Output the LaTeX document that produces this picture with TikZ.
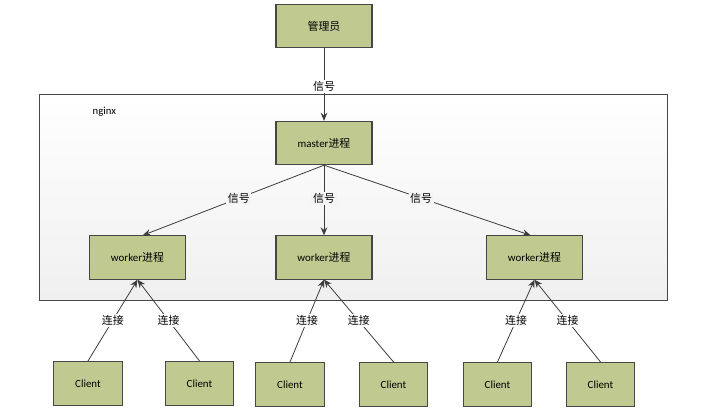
\documentclass[tikz,border=0pt]{standalone}
\usepackage{fontspec}
\setmainfont{Carlito}
\newfontfamily\cjk{Noto Sans CJK SC}
\usetikzlibrary{arrows.meta}
\definecolor{boxfill}{RGB}{192,202,144}
\definecolor{boxline}{RGB}{70,70,70}
\definecolor{linecol}{RGB}{60,60,60}
\definecolor{framefill}{RGB}{244,244,244}
\begin{document}
\begin{tikzpicture}[x=0.75pt,y=-0.75pt,
  box/.style={draw=boxline,fill=boxfill,line width=0.8pt,inner sep=0pt,
    font=\fontsize{8.2}{10}\selectfont},
  bigbox/.style={box,minimum width=72pt,minimum height=32.5pt},
  clientbox/.style={box,minimum width=51.5pt,minimum height=33pt},
  conn/.style={draw=linecol,line width=0.6pt,-{Stealth[length=6pt,width=5pt]}},
  lab/.style={font=\fontsize{8.2}{10}\selectfont\cjk,inner sep=1.2pt},
  labw/.style={lab,fill=white},
  labg/.style={lab,fill=framefill}]
\useasboundingbox (0,0) rectangle (720,417);
% frame
\node[draw=boxline,line width=0.6pt,top color=white,bottom color=gray!12,
  minimum width=471pt,minimum height=154.5pt,inner sep=0pt] (frame) at (353,197) {};
\node[font=\fontsize{8}{10}\selectfont,anchor=west] (nginx) at (88,112) {nginx};
% nodes
\node[bigbox] (admin) at (324,26) {\cjk 管理员};
\node[bigbox] (master) at (324,143) {master{\cjk 进程}};
\node[bigbox] (w1) at (137.5,257.5) {worker{\cjk 进程}};
\node[bigbox] (w2) at (324,257.5) {worker{\cjk 进程}};
\node[bigbox] (w3) at (534.5,257.5) {worker{\cjk 进程}};
\node[clientbox] (c1) at (88,383.5) {Client};
\node[clientbox] (c2) at (199.5,383.5) {Client};
\node[clientbox] (c3) at (290,384.5) {Client};
\node[clientbox] (c4) at (393.5,384.5) {Client};
\node[clientbox] (c5) at (497.5,384.5) {Client};
\node[clientbox] (c6) at (600.5,384.5) {Client};
% connectors
\draw[conn] (admin.south) -- node[labw,pos=0.53] {信号} (master.north);
\draw[conn] (master.south) -- node[labg,pos=0.47] {信号} ([xshift=4pt]w1.north);
\draw[conn] (master.south) -- node[labg,pos=0.47] {信号} (w2.north);
\draw[conn] (master.south) -- node[labg,pos=0.47] {信号} ([xshift=-3pt]w3.north);
\draw[conn] (c1.north) -- node[labw] {连接} (w1.south);
\draw[conn] (c2.north) -- node[labw] {连接} (w1.south);
\draw[conn] (c3.north) -- node[labw] {连接} (w2.south);
\draw[conn] (c4.north) -- node[labw] {连接} (w2.south);
\draw[conn] (c5.north) -- node[labw] {连接} (w3.south);
\draw[conn] (c6.north) -- node[labw] {连接} (w3.south);
\end{tikzpicture}
\end{document}
